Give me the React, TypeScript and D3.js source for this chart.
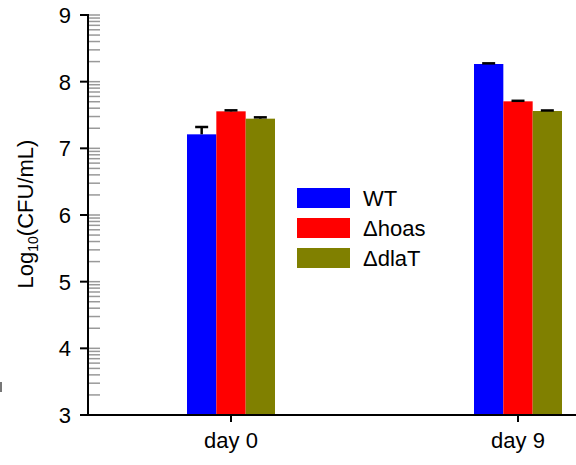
import React from "react";
import * as d3 from "d3";

const categories = ["day 0", "day 9"];
const seriesNames = ["WT", "Δhoas", "ΔdlaT"];
const seriesColors = ["#0000ff", "#ff0000", "#808000"];
const wtValues = [7.21, 8.265];
const hoasValues = [7.555, 7.705];
const dlaTValues = [7.445, 7.56];
const wtErrors = [0.11, 0.01];
const hoasErrors = [0.015, 0.008];
const dlaTErrors = [0.02, 0.008];
const yTicks = [3, 4, 5, 6, 7, 8, 9];

const W = 576;
const H = 465;
const FONT = "'Liberation Sans', Arial, sans-serif";

export default function App() {
  const y = d3.scaleLinear().domain([3, 9]).range([415, 15]);
  const x = d3.scalePoint<string>().domain(categories).range([231, 518]);
  const inner = d3.scaleBand<string>().domain(seriesNames).range([-44, 44]).padding(0);
  const values = [wtValues, hoasValues, dlaTValues];
  const errors = [wtErrors, hoasErrors, dlaTErrors];
  const axisX = 88;

  // minor ticks placed at log10 positions inside each unit interval
  const minor: number[] = [];
  for (let n = 3; n < 9; n++) {
    for (let k = 2; k <= 10; k++) minor.push(n + Math.log10(k));
  }

  return (
    <svg width={W} height={H} style={{ position: "absolute", left: 0, top: 0, background: "#fff" }} fontFamily={FONT}>
      <rect x={0} y={0} width={W} height={H} fill="#fff" />
      {/* bars */}
      {categories.map((c, i) =>
        seriesNames.map((s, j) => {
          const bx = (x(c) as number) + (inner(s) as number);
          const v = values[j][i];
          return (
            <rect key={c + s} x={bx} y={y(v)} width={inner.bandwidth()} height={y(3) - y(v)} fill={seriesColors[j]} />
          );
        })
      )}
      {/* error bars (upper half) */}
      {categories.map((c, i) =>
        seriesNames.map((s, j) => {
          const cx = (x(c) as number) + (inner(s) as number) + inner.bandwidth() / 2;
          const v = values[j][i];
          const e = errors[j][i];
          return (
            <g key={"e" + c + s} stroke="#000" strokeWidth={2.5}>
              <line x1={cx} x2={cx} y1={y(v)} y2={y(v + e)} />
              <line x1={cx - 6.5} x2={cx + 6.5} y1={y(v + e)} y2={y(v + e)} />
            </g>
          );
        })
      )}
      {/* y axis */}
      {minor.map((m, i) => (
        <line key={"m" + i} x1={axisX} x2={axisX + 12} y1={y(m)} y2={y(m)} stroke="#999" strokeWidth={1.5} />
      ))}
      <line x1={axisX} x2={axisX} y1={y(9) - 1} y2={y(3)} stroke="#000" strokeWidth={2} />
      {yTicks.map((t) => (
        <g key={"t" + t}>
          <line x1={axisX - 8} x2={axisX} y1={y(t)} y2={y(t)} stroke="#000" strokeWidth={2} />
          <text x={axisX - 17} y={y(t)} dy="0.36em" textAnchor="end" fontSize={22} fill="#000">
            {t}
          </text>
        </g>
      ))}
      {/* x axis */}
      <line x1={axisX} x2={W} y1={y(3)} y2={y(3)} stroke="#000" strokeWidth={2} />
      {categories.map((c) => (
        <g key={"x" + c}>
          <line x1={x(c)} x2={x(c)} y1={y(3)} y2={y(3) + 7} stroke="#000" strokeWidth={2} />
          <text x={x(c)} y={448} textAnchor="middle" fontSize={22} fill="#000">
            {c}
          </text>
        </g>
      ))}
      {/* y label */}
      <text transform="translate(33,214) rotate(-90)" textAnchor="middle" fontSize={22} fill="#000">
        Log<tspan fontSize={14} dy={5}>10</tspan>
        <tspan dy={-5}>(CFU/mL)</tspan>
      </text>
      {/* legend */}
      {seriesNames.map((s, j) => (
        <g key={"l" + s} transform={`translate(297,${188 + j * 30})`}>
          <rect x={0} y={0} width={53} height={20} fill={seriesColors[j]} />
          <text x={66} y={10} dy="0.36em" fontSize={22} fill="#000">
            {s}
          </text>
        </g>
      ))}
      <rect x={0} y={382} width={2} height={10} fill="#777" />
    </svg>
  );
}
